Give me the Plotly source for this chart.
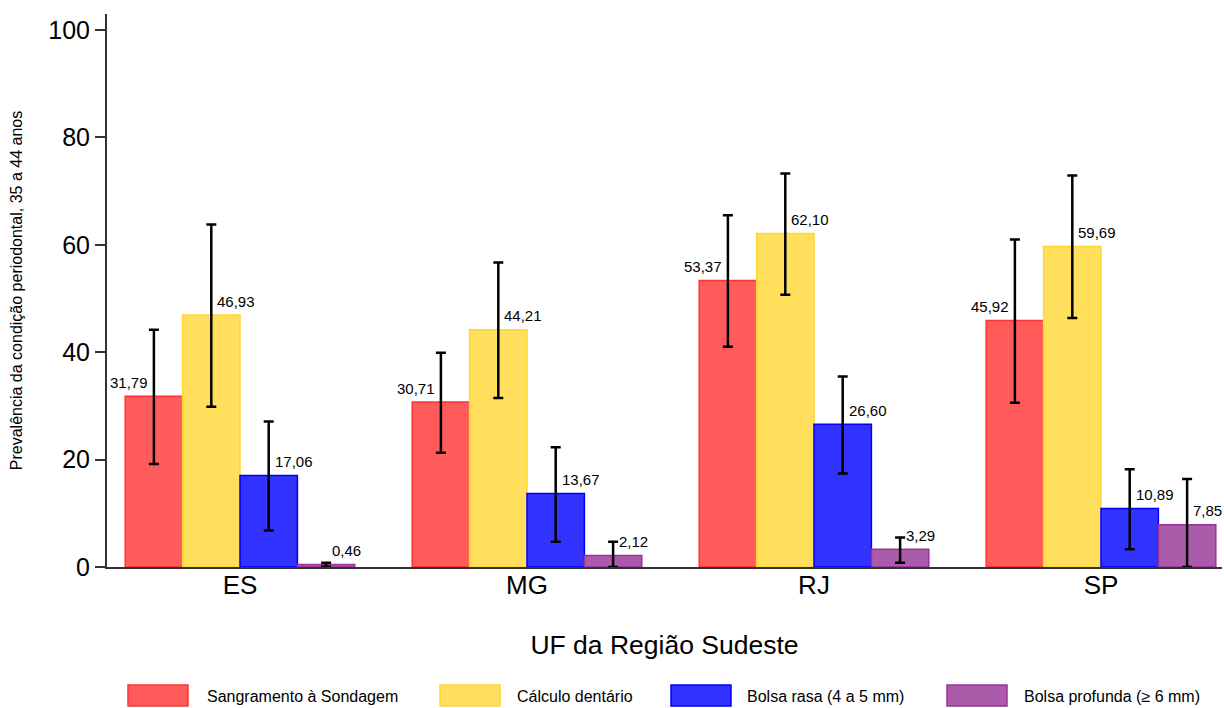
import plotly.graph_objects as go

categories = ["ES", "MG", "RJ", "SP"]
series_names = ["Sangramento à Sondagem", "Cálculo dentário", "Bolsa rasa (4 a 5 mm)", "Bolsa profunda (≥ 6 mm)"]

sangramento = [31.79, 30.71, 53.37, 45.92]
sangramento_lo = [19.2, 21.3, 41.0, 30.6]
sangramento_hi = [44.2, 39.9, 65.5, 61.0]

calculo = [46.93, 44.21, 62.10, 59.69]
calculo_lo = [29.85, 31.5, 50.7, 46.4]
calculo_hi = [63.8, 56.7, 73.3, 72.9]

bolsa_rasa = [17.06, 13.67, 26.60, 10.89]
bolsa_rasa_lo = [6.8, 4.7, 17.4, 3.3]
bolsa_rasa_hi = [27.1, 22.3, 35.5, 18.2]

bolsa_prof = [0.46, 2.12, 3.29, 7.85]
bolsa_prof_lo = [0.1, 0.0, 0.8, 0.0]
bolsa_prof_hi = [0.8, 4.7, 5.5, 16.4]

fills = ["#FF5B5B", "#FFDF5B", "#3333FF", "#AA5BAA"]
lines = ["#FF3333", "#FFD633", "#0000FF", "#993399"]

values = [sangramento, calculo, bolsa_rasa, bolsa_prof]
los = [sangramento_lo, calculo_lo, bolsa_rasa_lo, bolsa_prof_lo]
his = [sangramento_hi, calculo_hi, bolsa_rasa_hi, bolsa_prof_hi]

FONT = "Liberation Sans, Arial, Helvetica, sans-serif"

fig = go.Figure()
for name, v, lo, hi, fc, lc in zip(series_names, values, los, his, fills, lines):
    fig.add_trace(go.Bar(
        x=categories, y=v, name=name,
        marker=dict(color=fc, line=dict(color=lc, width=1.5)),
        error_y=dict(type="data", symmetric=False,
                     array=[h - y for h, y in zip(hi, v)],
                     arrayminus=[y - l for l, y in zip(lo, v)],
                     color="black", thickness=2.5, width=5),
        showlegend=False,
    ))

# value labels
n = len(series_names)
group_w = 0.8
bar_w = group_w / n
for si, v in enumerate(values):
    off = -group_w / 2 + bar_w * (si + 0.5)
    for ci, val in enumerate(v):
        txt = f"{val:.2f}".replace(".", ",")
        if si == 0:
            fig.add_annotation(x=ci + off, y=val, text=txt, showarrow=False,
                               xanchor="right", yanchor="middle", xshift=-4, yshift=14,
                               font=dict(size=15, color="black", family=FONT))
        else:
            fig.add_annotation(x=ci + off, y=val, text=txt, showarrow=False,
                               xanchor="left", yanchor="middle", xshift=4, yshift=14,
                               font=dict(size=15, color="black", family=FONT))

W, H = 1224, 708
# plot area in page pixels
L, R, T, B = 107, 1222, 14, 567

def px(xp):
    return (xp - L) / (R - L)

def py(yp):
    return (B - yp) / (B - T)

# custom legend (large swatches)
swatch_x = [128, 440, 671, 947]
text_x = [205, 515, 745, 1022]
for name, fc, lc, sx, tx in zip(series_names, fills, lines, swatch_x, text_x):
    fig.add_shape(type="rect", xref="paper", yref="paper",
                  x0=px(sx), x1=px(sx + 60), y0=py(706), y1=py(685),
                  fillcolor=fc, line=dict(color=lc, width=1.5))
    fig.add_annotation(xref="paper", yref="paper", x=px(tx), y=py(696),
                       text=name, showarrow=False, xanchor="left", yanchor="middle",
                       font=dict(size=16, color="black", family=FONT))

fig.update_layout(
    barmode="group", bargap=0.2, bargroupgap=0,
    width=W, height=H,
    margin=dict(l=L, r=W - R, t=T, b=H - B),
    plot_bgcolor="white", paper_bgcolor="white",
    font=dict(family=FONT, color="black"),
    xaxis=dict(range=[-0.4634, 3.4216], showline=True, linecolor="#333333", linewidth=2,
               ticks="", tickfont=dict(size=26), ticklabelstandoff=-6,
               showgrid=False, zeroline=False,
               title=dict(text="UF da Região Sudeste", font=dict(size=26.5), standoff=36)),
    yaxis=dict(range=[0, 103], showline=True, linecolor="#333333", linewidth=2,
               ticks="outside", ticklen=10, tickwidth=2, tickcolor="#333333",
               tickvals=[0, 20, 40, 60, 80, 100], tickfont=dict(size=25),
               showgrid=False, zeroline=False,
               title=dict(text="Prevalência da condição periodontal, 35 a 44 anos",
                          font=dict(size=16), standoff=22)),
)

fig.write_html("out.html", config={"displayModeBar": False},
               post_script="document.body.style.margin='0';document.body.style.overflow='hidden';")
